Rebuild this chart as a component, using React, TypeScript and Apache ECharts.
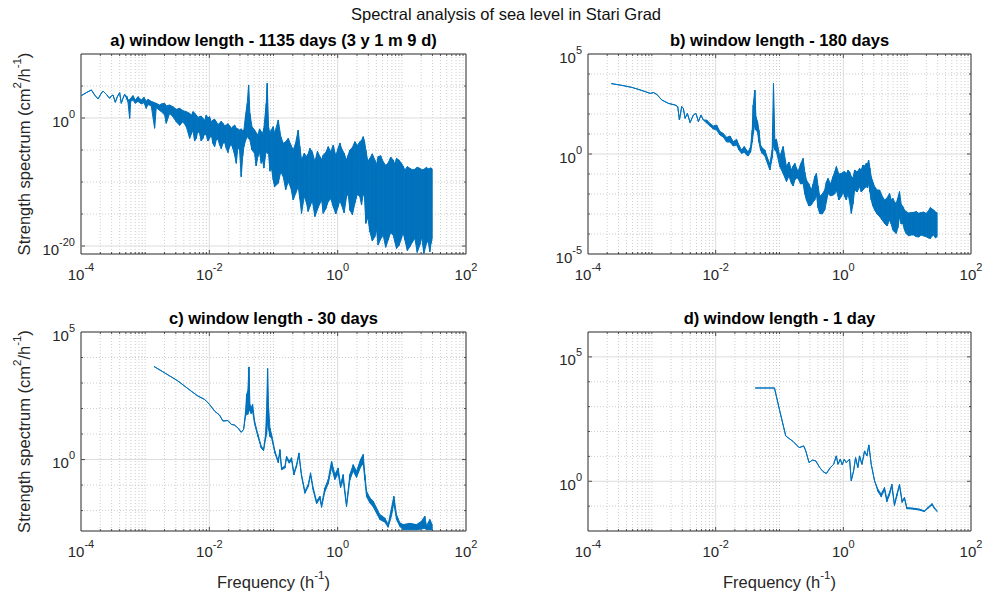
import React, { useEffect, useRef } from 'react';
import * as echarts from 'echarts';

// Rows: [log10 frequency (h^-1), log10 upper envelope, log10 lower envelope] of the strength spectrum (cm^2/h^-1)
const spectrumA: number[][] = [
  [-3.995, 3.49, 3.49], [-3.917, 3.96, 3.96], [-3.839, 4.38, 4.38], [-3.787, 3.59, 3.59],
  [-3.735, 2.97, 2.97], [-3.694, 3.70, 3.70], [-3.657, 4.22, 4.22], [-3.606, 3.70, 3.70],
  [-3.554, 3.07, 3.07], [-3.528, 3.44, 3.44], [-3.501, 3.59, 3.59], [-3.465, 2.45, 2.45],
  [-3.434, 3.33, 3.33], [-3.398, 3.96, 3.96], [-3.372, 2.29, 2.29], [-3.346, 3.07, 3.07],
  [-3.320, 3.70, 3.70], [-3.283, 3.33, 2.90], [-3.268, 2.81, 2.50], [-3.242, 2.90, -0.05],
  [-3.226, 3.07, 2.60], [-3.190, 3.49, 2.80], [-3.154, 2.81, 2.30], [-3.112, 3.33, 2.60],
  [-3.060, 2.81, 2.20], [-3.019, 3.23, 2.40], [-2.983, 2.60, 1.51], [-2.957, 2.92, 2.10],
  [-2.905, 2.60, 1.90], [-2.853, 2.40, -1.60], [-2.827, 2.29, 1.60], [-2.775, 2.03, 1.20],
  [-2.749, 2.20, 1.00], [-2.697, 2.29, 0.46], [-2.671, 1.90, -0.83], [-2.619, 2.03, 0.71],
  [-2.567, 1.77, 0.19], [-2.515, 1.35, -0.60], [-2.463, 1.51, -1.15], [-2.411, 1.15, -0.57],
  [-2.359, 0.99, -1.35], [-2.307, 0.73, -3.18], [-2.280, 0.40, -2.50], [-2.255, 0.99, -1.88],
  [-2.230, 0.80, -3.60], [-2.204, 0.47, -3.18], [-2.180, 0.10, -2.10], [-2.152, 0.21, -2.40],
  [-2.126, 0.30, -3.60], [-2.100, -0.05, -3.18], [-2.074, -0.40, -2.50], [-2.048, 0.47, -2.66],
  [-2.022, 0.00, -3.60], [-1.996, 0.21, -3.18], [-1.970, -0.60, -2.60], [-1.944, -0.31, -3.96],
  [-1.918, -0.20, -4.50], [-1.892, -0.57, -3.44], [-1.866, -1.00, -3.30], [-1.840, -0.83, -4.22],
  [-1.814, -0.50, -4.80], [-1.788, -0.83, -3.96], [-1.762, -1.20, -3.80], [-1.736, -1.09, -4.74],
  [-1.710, -0.90, -5.40], [-1.684, -1.20, -4.48], [-1.658, -1.60, -4.10], [-1.632, -1.35, -4.80],
  [-1.606, -1.10, -5.80], [-1.580, -1.60, -7.08], [-1.555, -1.70, -4.60], [-1.529, -1.88, -5.00],
  [-1.503, -1.70, -9.17], [-1.480, -2.00, -6.00], [-1.461, -1.88, -4.48], [-1.435, 0.47, -3.50],
  [-1.409, 2.29, -2.90], [-1.388, 5.16, -3.18], [-1.368, 0.73, -3.44], [-1.336, -1.35, -5.00],
  [-1.295, -1.88, -5.52], [-1.270, -2.30, -7.50], [-1.243, -2.66, -6.00], [-1.217, -1.70, -5.40],
  [-1.191, -2.14, -7.08], [-1.170, -2.40, -6.60], [-1.150, -1.60, -7.80], [-1.113, 2.29, -5.00],
  [-1.098, 5.42, -5.50], [-1.077, -1.35, -5.52], [-1.056, -2.50, -8.30], [-1.035, -1.88, -7.60],
  [-1.004, -1.35, -9.69], [-0.983, -2.40, -10.73], [-0.926, -0.31, -10.20], [-0.887, -2.90, -8.40],
  [-0.848, -3.96, -9.17], [-0.810, -3.70, -11.20], [-0.770, -3.18, -9.95], [-0.730, -4.20, -10.90],
  [-0.693, -5.00, -12.80], [-0.655, -3.90, -11.80], [-0.615, -1.88, -10.73], [-0.590, -4.40, -12.60],
  [-0.563, -6.56, -14.90], [-0.520, -5.50, -12.20], [-0.485, -6.04, -13.33], [-0.460, -5.60, -14.60],
  [-0.433, -4.74, -13.85], [-0.395, -5.30, -12.90], [-0.355, -6.82, -15.40], [-0.315, -5.20, -14.30],
  [-0.277, -6.04, -13.33], [-0.250, -6.50, -12.80], [-0.225, -5.78, -14.90], [-0.186, -5.40, -14.20],
  [-0.147, -4.48, -13.07], [-0.108, -5.30, -12.60], [-0.069, -4.22, -13.85], [-0.030, -5.90, -15.00],
  [0.008, -4.74, -13.85], [0.034, -3.90, -12.90], [0.060, -4.74, -13.60], [0.100, -5.50, -14.80],
  [0.138, -6.56, -12.30], [0.164, -5.80, -11.80], [0.190, -5.00, -14.40], [0.230, -4.60, -15.10],
  [0.268, -3.70, -13.33], [0.307, -4.30, -11.90], [0.346, -3.70, -12.30], [0.372, -3.50, -13.60],
  [0.398, -2.92, -11.77], [0.418, -3.60, -12.40], [0.439, -5.00, -16.46], [0.470, -6.80, -15.50],
  [0.502, -6.30, -17.76], [0.540, -5.60, -19.20], [0.579, -6.56, -18.54], [0.605, -7.30, -17.40],
  [0.631, -6.04, -19.85], [0.670, -5.90, -18.90], [0.709, -6.82, -18.28], [0.748, -7.40, -20.20],
  [0.787, -7.08, -19.06], [0.826, -6.10, -17.90], [0.865, -6.56, -18.28], [0.890, -7.20, -19.30],
  [0.917, -6.30, -20.40], [0.956, -6.60, -19.90], [0.995, -7.08, -18.80], [1.020, -7.50, -17.90],
  [1.047, -8.13, -19.06], [1.086, -7.60, -20.70], [1.125, -7.86, -20.10], [1.164, -8.10, -19.40],
  [1.203, -8.02, -18.80], [1.240, -7.70, -21.00], [1.280, -7.86, -19.85], [1.310, -8.10, -18.60],
  [1.343, -8.02, -21.15], [1.384, -7.71, -19.60], [1.410, -7.95, -19.20], [1.436, -7.86, -20.90],
  [1.455, -7.80, -19.60], [1.473, -8.02, -18.80],
];

const spectrumB: number[][] = [
  [-3.636, 3.52, 3.52], [-3.469, 3.43, 3.43], [-3.313, 3.33, 3.33], [-3.209, 3.23, 3.23],
  [-3.104, 3.12, 3.12], [-3.026, 3.03, 3.03], [-2.974, 3.07, 3.07], [-2.922, 2.98, 2.98],
  [-2.844, 2.70, 2.70], [-2.740, 2.53, 2.53], [-2.636, 2.45, 2.45], [-2.594, 2.37, 2.37],
  [-2.568, 1.70, 1.70], [-2.532, 2.37, 2.37], [-2.506, 2.28, 2.28], [-2.479, 1.78, 1.78],
  [-2.443, 2.03, 2.03], [-2.401, 1.57, 1.57], [-2.349, 1.95, 1.95], [-2.308, 2.03, 2.03],
  [-2.271, 1.62, 1.62], [-2.230, 1.95, 1.95], [-2.193, 1.70, 1.70], [-2.141, 1.70, 1.55],
  [-2.089, 1.53, 1.40], [-2.037, 1.40, 1.25], [-1.985, 1.45, 1.20], [-1.933, 1.12, 0.95],
  [-1.881, 1.03, 0.85], [-1.828, 0.83, 0.60], [-1.776, 0.90, 0.60], [-1.724, 0.62, 0.40],
  [-1.672, 0.73, 0.45], [-1.636, 0.45, 0.20], [-1.594, 0.20, 0.03], [-1.552, 0.37, 0.10],
  [-1.516, 0.20, -0.05], [-1.490, 0.10, -0.10], [-1.453, 0.37, 0.10], [-1.427, 1.20, 0.60],
  [-1.412, 2.45, 1.00], [-1.386, 3.20, 1.50], [-1.370, 1.87, 1.20], [-1.344, 1.62, 1.10],
  [-1.323, 1.20, 0.60], [-1.297, 0.45, 0.20], [-1.271, 0.30, 0.03], [-1.229, 0.20, -0.10],
  [-1.188, -0.20, -0.47], [-1.151, -0.50, -0.80], [-1.115, 0.20, -0.20], [-1.094, 3.53, 0.50],
  [-1.073, 0.70, 0.20], [-1.047, 0.73, 0.10], [-0.995, -0.13, -0.63], [-0.943, 0.37, -0.97],
  [-0.891, -0.63, -1.38], [-0.852, -0.40, -1.10], [-0.813, -0.80, -1.47], [-0.786, -0.60, -1.60],
  [-0.760, -0.47, -1.30], [-0.734, -0.70, -1.20], [-0.708, -0.88, -1.22], [-0.670, -0.50, -1.50],
  [-0.630, -0.22, -1.47], [-0.604, -0.90, -2.00], [-0.578, -1.30, -2.30], [-0.540, -1.50, -2.60],
  [-0.500, -1.80, -2.55], [-0.474, -1.50, -2.40], [-0.448, -1.13, -2.30], [-0.422, -0.97, -2.00],
  [-0.396, -1.60, -2.70], [-0.370, -2.13, -2.97], [-0.330, -2.00, -3.00], [-0.292, -1.80, -2.80],
  [-0.266, -1.40, -2.40], [-0.240, -1.22, -1.97], [-0.200, -1.50, -2.10], [-0.162, -1.13, -2.05],
  [-0.136, -0.90, -2.00], [-0.109, -0.63, -1.80], [-0.070, -1.00, -2.30], [-0.031, -0.97, -2.13],
  [0.000, -0.90, -1.90], [0.021, -0.88, -2.13], [0.047, -1.00, -2.30], [0.073, -0.80, -1.97],
  [0.099, -0.90, -2.40], [0.125, -1.13, -2.97], [0.151, -1.20, -2.50], [0.177, -0.80, -1.80],
  [0.216, -0.90, -1.90], [0.255, -0.72, -1.63], [0.281, -0.80, -1.90], [0.307, -0.55, -1.80],
  [0.333, -0.60, -1.70], [0.359, -0.47, -1.63], [0.378, -0.50, -1.70], [0.396, -0.30, -1.47],
  [0.416, -0.70, -1.90], [0.437, -1.13, -2.30], [0.463, -1.40, -2.60], [0.490, -1.63, -2.80],
  [0.529, -1.80, -3.00], [0.568, -1.80, -3.13], [0.607, -2.10, -3.30], [0.646, -2.30, -3.47],
  [0.685, -2.20, -3.60], [0.724, -1.97, -3.30], [0.750, -2.30, -3.50], [0.776, -2.22, -3.80],
  [0.802, -2.40, -3.90], [0.828, -2.47, -3.97], [0.854, -2.20, -3.70], [0.880, -1.88, -3.13],
  [0.906, -2.50, -3.50], [0.932, -2.63, -3.47], [0.958, -2.80, -3.80], [0.984, -2.88, -3.97],
  [1.023, -2.95, -4.10], [1.062, -2.93, -4.05], [1.101, -2.92, -4.05], [1.140, -2.88, -4.13],
  [1.180, -2.96, -4.15], [1.219, -2.93, -4.05], [1.258, -2.90, -4.10], [1.297, -2.97, -4.13],
  [1.331, -2.85, -4.20], [1.365, -2.67, -4.22], [1.391, -2.75, -4.10], [1.417, -2.80, -4.05],
  [1.443, -2.90, -4.20], [1.469, -2.93, -4.13],
];

const spectrumC: number[][] = [
  [-2.863, 3.65, 3.65], [-2.697, 3.40, 3.40], [-2.489, 3.08, 3.08], [-2.281, 2.68, 2.68],
  [-2.178, 2.49, 2.49], [-2.074, 2.36, 2.36], [-1.996, 2.16, 2.16], [-1.918, 1.90, 1.90],
  [-1.840, 1.74, 1.74], [-1.788, 1.51, 1.51], [-1.710, 1.53, 1.53], [-1.658, 1.38, 1.38],
  [-1.606, 1.35, 1.35], [-1.554, 1.24, 1.24], [-1.503, 1.07, 1.07], [-1.466, 1.18, 1.18],
  [-1.435, 1.90, 1.70], [-1.419, 2.55, 1.80], [-1.399, 2.70, 1.77], [-1.383, 3.63, 2.00],
  [-1.368, 2.16, 1.90], [-1.347, 2.03, 1.80], [-1.326, 2.16, 1.90], [-1.295, 1.51, 1.40],
  [-1.243, 0.98, 0.90], [-1.191, 0.53, 0.45], [-1.155, 0.39, 0.35], [-1.124, 0.98, 0.80],
  [-1.108, 1.90, 1.00], [-1.092, 3.57, 1.50], [-1.077, 2.03, 1.20], [-1.056, 1.24, 0.90],
  [-1.030, 0.98, 0.85], [-0.978, 0.33, 0.25], [-0.926, -0.06, -0.12], [-0.900, 0.39, 0.30],
  [-0.874, -0.33, -0.40], [-0.822, -0.26, -0.33], [-0.797, 0.13, 0.05], [-0.755, -0.06, -0.14],
  [-0.719, 0.07, -0.02], [-0.682, -0.52, -0.60], [-0.641, -0.20, -0.28], [-0.604, 0.26, 0.18],
  [-0.563, -0.59, -0.67], [-0.511, -1.24, -1.32], [-0.459, -0.98, -1.06], [-0.423, -0.52, -0.62],
  [-0.381, -1.11, -1.20], [-0.329, -1.63, -1.73], [-0.277, -1.44, -1.54], [-0.251, -1.77, -1.87],
  [-0.199, -1.11, -1.25], [-0.147, -0.78, -0.95], [-0.095, -0.06, -0.30], [-0.044, -0.59, -0.78],
  [0.008, -0.33, -0.55], [0.045, -0.98, -1.10], [0.086, -0.59, -0.80], [0.138, -1.77, -1.85],
  [0.190, -0.59, -0.80], [0.242, -0.20, -0.45], [0.294, -0.46, -0.70], [0.356, 0.00, -0.30],
  [0.398, 0.20, -0.15], [0.424, -0.59, -0.80], [0.450, -1.24, -1.45], [0.502, -1.50, -1.70],
  [0.554, -1.63, -1.85], [0.606, -1.90, -2.10], [0.658, -2.16, -2.35], [0.735, -2.29, -2.45],
  [0.787, -2.55, -2.65], [0.839, -1.90, -2.20], [0.875, -1.44, -1.70], [0.917, -2.16, -2.35],
  [0.969, -2.48, -2.62], [1.021, -2.55, -2.75], [1.125, -2.50, -2.75], [1.228, -2.55, -2.75],
  [1.306, -2.42, -2.72], [1.358, -2.22, -2.70], [1.384, -2.60, -2.75], [1.436, -2.35, -2.75],
  [1.473, -2.55, -2.75],
];

const spectrumD: number[][] = [
  [-1.381, 3.75, 3.75], [-1.079, 3.75, 3.75], [-0.996, 2.83, 2.83], [-0.902, 1.82, 1.82],
  [-0.787, 1.60, 1.60], [-0.693, 1.35, 1.35], [-0.621, 1.42, 1.42], [-0.589, 1.22, 1.22],
  [-0.537, 0.75, 0.75], [-0.485, 0.85, 0.85], [-0.433, 0.82, 0.82], [-0.370, 0.55, 0.55],
  [-0.318, 0.39, 0.39], [-0.266, 0.31, 0.31], [-0.204, 0.55, 0.55], [-0.152, 0.68, 0.68],
  [-0.110, 1.02, 1.02], [-0.084, 0.68, 0.68], [-0.048, 0.89, 0.89], [-0.017, 0.66, 0.66],
  [0.015, 0.89, 0.89], [0.046, 0.75, 0.75], [0.098, 0.89, 0.89], [0.124, 0.02, 0.02],
  [0.161, 0.42, 0.42], [0.192, 0.95, 0.95], [0.228, 0.55, 0.55], [0.254, 1.02, 1.02],
  [0.291, 0.68, 0.68], [0.333, 1.22, 1.22], [0.369, 1.02, 1.02], [0.400, 1.46, 1.46],
  [0.437, 0.68, 0.68], [0.489, 0.02, 0.02], [0.541, -0.32, -0.40], [0.593, -0.52, -0.62],
  [0.645, -0.25, -0.35], [0.682, -0.72, -0.82], [0.723, -0.45, -0.55], [0.760, -0.12, -0.20],
  [0.801, -0.92, -0.98], [0.838, -0.52, -0.60], [0.880, -0.12, -0.18], [0.921, -0.79, -0.85],
  [0.958, -0.65, -0.70], [0.994, -1.06, -1.10], [1.088, -1.08, -1.12], [1.192, -1.12, -1.16],
  [1.270, -1.19, -1.22], [1.322, -1.06, -1.10], [1.390, -0.90, -0.95], [1.427, -1.06, -1.10],
  [1.468, -1.19, -1.22],
];

const mainTitle = 'Spectral analysis of sea level in Stari Grad';
const panelTitles = [
  'a) window length - 1135 days (3 y 1 m 9 d)',
  'b) window length - 180 days',
  'c) window length - 30 days',
  'd) window length - 1 day',
];
// x axis: exponent range and labelled exponents
const xRange = [-4, 2];
const xTickExponents = [-4, -2, 0, 2];
// y axis per panel: exponent range, labelled exponents, minor grid exponents
const yRanges = [[-21.25, 10], [-5, 5], [-2.8, 5], [-2, 6]];
const yTickExponents = [[-20, 0], [-5, 0, 5], [0, 5], [0, 5]];
const yMinorExponents = [[-15, -10, -5, 5], [-4, -3, -2, -1, 1, 2, 3, 4], [-2, -1, 1, 2, 3, 4], [-1, 1, 2, 3, 4]];
const yAxisLabel = 'Strength spectrum';
const xAxisLabel = 'Frequency';

const FONT = '"Liberation Sans", Arial, Helvetica, sans-serif';
const AXIS_COLOR = '#262626';
const LINE_COLOR = '#0072BD';
const MAJOR_GRID = '#dcdcdc';
const MINOR_GRID = '#c2c2c2';

const gridBoxes = [
  { left: 81, top: 54, width: 385, height: 200 },
  { left: 588, top: 54, width: 383, height: 200 },
  { left: 81, top: 332, width: 385, height: 199 },
  { left: 588, top: 332, width: 383, height: 199 },
];

const tickRich = {
  b: { fontSize: 15, lineHeight: 26, color: AXIS_COLOR, fontFamily: FONT },
  s: { fontSize: 11, lineHeight: 12, verticalAlign: 'top', color: AXIS_COLOR, fontFamily: FONT },
};
const nameRich = {
  n: { fontSize: 16.5, lineHeight: 26, color: AXIS_COLOR, fontFamily: FONT },
  s: { fontSize: 11.5, lineHeight: 12, verticalAlign: 'top', color: AXIS_COLOR, fontFamily: FONT },
};
const powFmt = (v: number) => `{b|10}{s|${Math.round(v)}}`;

function xGridValues() {
  const major: number[] = [];
  const minor: number[] = [];
  for (let n = xRange[0]; n < xRange[1]; n++) {
    for (let k = 1; k <= 9; k++) {
      const v = n + Math.log10(k);
      if (v <= xRange[0] || v >= xRange[1]) continue;
      if (k === 1 && xTickExponents.includes(n)) major.push(v);
      else minor.push(v);
    }
  }
  return { major, minor };
}

function gridSeries(gi: number) {
  const xs = xGridValues();
  const [ymin, ymax] = yRanges[gi];
  const yMajor = yTickExponents[gi].filter((v) => v > ymin && v < ymax);
  const yMinor = yMinorExponents[gi].filter((v) => v > ymin && v < ymax);
  const data = [
    ...xs.major.map((v) => [v, 0, 1]),
    ...xs.minor.map((v) => [v, 0, 0]),
    ...yMajor.map((v) => [v, 1, 1]),
    ...yMinor.map((v) => [v, 1, 0]),
  ];
  return {
    type: 'custom',
    xAxisIndex: gi,
    yAxisIndex: gi,
    z: 1,
    silent: true,
    data,
    renderItem: (params: any, api: any) => {
      const cs = params.coordSys;
      const v = api.value(0);
      const o = api.value(1);
      const m = api.value(2);
      const x0 = cs.x, x1 = cs.x + cs.width, y0 = cs.y, y1 = cs.y + cs.height;
      const tl = m ? 4 : 2;
      const gridStyle = m
        ? { stroke: MAJOR_GRID, lineWidth: 1 }
        : { stroke: MINOR_GRID, lineWidth: 0.8, lineDash: [1, 2] };
      const tickStyle = { stroke: AXIS_COLOR, lineWidth: 0.8 };
      const children: any[] = [];
      if (o === 0) {
        const px = api.coord([v, ymin])[0];
        children.push({ type: 'line', shape: { x1: px, y1: y0, x2: px, y2: y1 }, style: gridStyle });
        children.push({ type: 'line', shape: { x1: px, y1: y1, x2: px, y2: y1 - tl }, style: tickStyle });
        children.push({ type: 'line', shape: { x1: px, y1: y0, x2: px, y2: y0 + tl }, style: tickStyle });
      } else {
        const py = api.coord([xRange[0], v])[1];
        children.push({ type: 'line', shape: { x1: x0, y1: py, x2: x1, y2: py }, style: gridStyle });
        children.push({ type: 'line', shape: { x1: x0, y1: py, x2: x0 + tl, y2: py }, style: tickStyle });
        children.push({ type: 'line', shape: { x1: x1, y1: py, x2: x1 - tl, y2: py }, style: tickStyle });
      }
      return { type: 'group', children };
    },
  };
}

// The spectrum is drawn as a band between its upper and lower envelope: each data row
// draws the segment (quad) joining it with the next row, mapped through the axes.
function spectrumSeries(rows: number[][], gi: number) {
  return {
    type: 'custom',
    xAxisIndex: gi,
    yAxisIndex: gi,
    z: 3,
    silent: true,
    clip: true,
    data: rows,
    renderItem: (params: any, api: any) => {
      const i = params.dataIndex;
      if (i >= rows.length - 1) return null;
      const x = api.value(0);
      const hi = api.value(1);
      const lo = api.value(2);
      const next = rows[i + 1];
      const p1 = api.coord([x, hi]);
      const p2 = api.coord([next[0], next[1]]);
      const p3 = api.coord([next[0], next[2]]);
      const p4 = api.coord([x, lo]);
      return {
        type: 'polygon',
        shape: { points: [p1, p2, p3, p4] },
        style: { fill: LINE_COLOR, stroke: LINE_COLOR, lineWidth: 1, lineJoin: 'round' },
      };
    },
  };
}

function buildOption() {
  const all = [spectrumA, spectrumB, spectrumC, spectrumD];
  const xAxis = gridBoxes.map((_, gi) => ({
    type: 'value',
    gridIndex: gi,
    min: xRange[0],
    max: xRange[1],
    axisLine: { show: false },
    axisTick: { show: false },
    splitLine: { show: false },
    axisLabel: { customValues: xTickExponents, formatter: powFmt, rich: tickRich, margin: 7 },
    ...(gi >= 2
      ? {
          name: `{n|${xAxisLabel} (h}{s|-1}{n|)}`,
          nameLocation: 'middle',
          nameGap: 38,
          nameTextStyle: { rich: nameRich },
        }
      : {}),
  }));
  const yAxis = gridBoxes.map((_, gi) => ({
    type: 'value',
    gridIndex: gi,
    min: yRanges[gi][0],
    max: yRanges[gi][1],
    axisLine: { show: false },
    axisTick: { show: false },
    splitLine: { show: false },
    axisLabel: {
      customValues: yTickExponents[gi],
      formatter: powFmt,
      rich: tickRich,
      margin: 6,
      padding: [6, 0, 0, 0],
    },
    ...(gi % 2 === 0
      ? {
          name: `{n|${yAxisLabel} (cm}{s|2}{n|/h}{s|-1}{n|)}`,
          nameLocation: 'middle',
          nameGap: 44,
          nameTextStyle: { rich: nameRich },
        }
      : {}),
  }));
  const series: any[] = [];
  all.forEach((rows, gi) => {
    series.push(gridSeries(gi));
    series.push(spectrumSeries(rows, gi));
  });
  const titleCenters = gridBoxes.map((g) => [g.left + g.width / 2, g.top < 100 ? 40 : 318]);
  const graphic: any[] = [
    {
      type: 'text',
      x: 506,
      y: 14,
      style: { text: mainTitle, font: `16.5px ${FONT}`, fill: '#111', textAlign: 'center', textVerticalAlign: 'middle' },
    },
    ...panelTitles.map((t, i) => ({
      type: 'text',
      x: titleCenters[i][0],
      y: titleCenters[i][1],
      style: { text: t, font: `bold 16.5px ${FONT}`, fill: '#000', textAlign: 'center', textVerticalAlign: 'middle' },
    })),
  ];
  return {
    animation: false,
    backgroundColor: '#ffffff',
    textStyle: { fontFamily: FONT, color: AXIS_COLOR },
    grid: gridBoxes.map((g) => ({
      ...g,
      show: true,
      borderColor: AXIS_COLOR,
      borderWidth: 1,
      backgroundColor: 'transparent',
      containLabel: false,
    })),
    xAxis,
    yAxis,
    series,
    graphic,
  };
}

export default function App() {
  const ref = useRef<HTMLDivElement>(null);
  useEffect(() => {
    const chart = echarts.init(ref.current as HTMLDivElement, null, { renderer: 'svg' });
    chart.setOption(buildOption() as any);
    return () => chart.dispose();
  }, []);
  return <div ref={ref} style={{ position: 'fixed', left: 0, top: 0, width: 987, height: 596 }} />;
}
